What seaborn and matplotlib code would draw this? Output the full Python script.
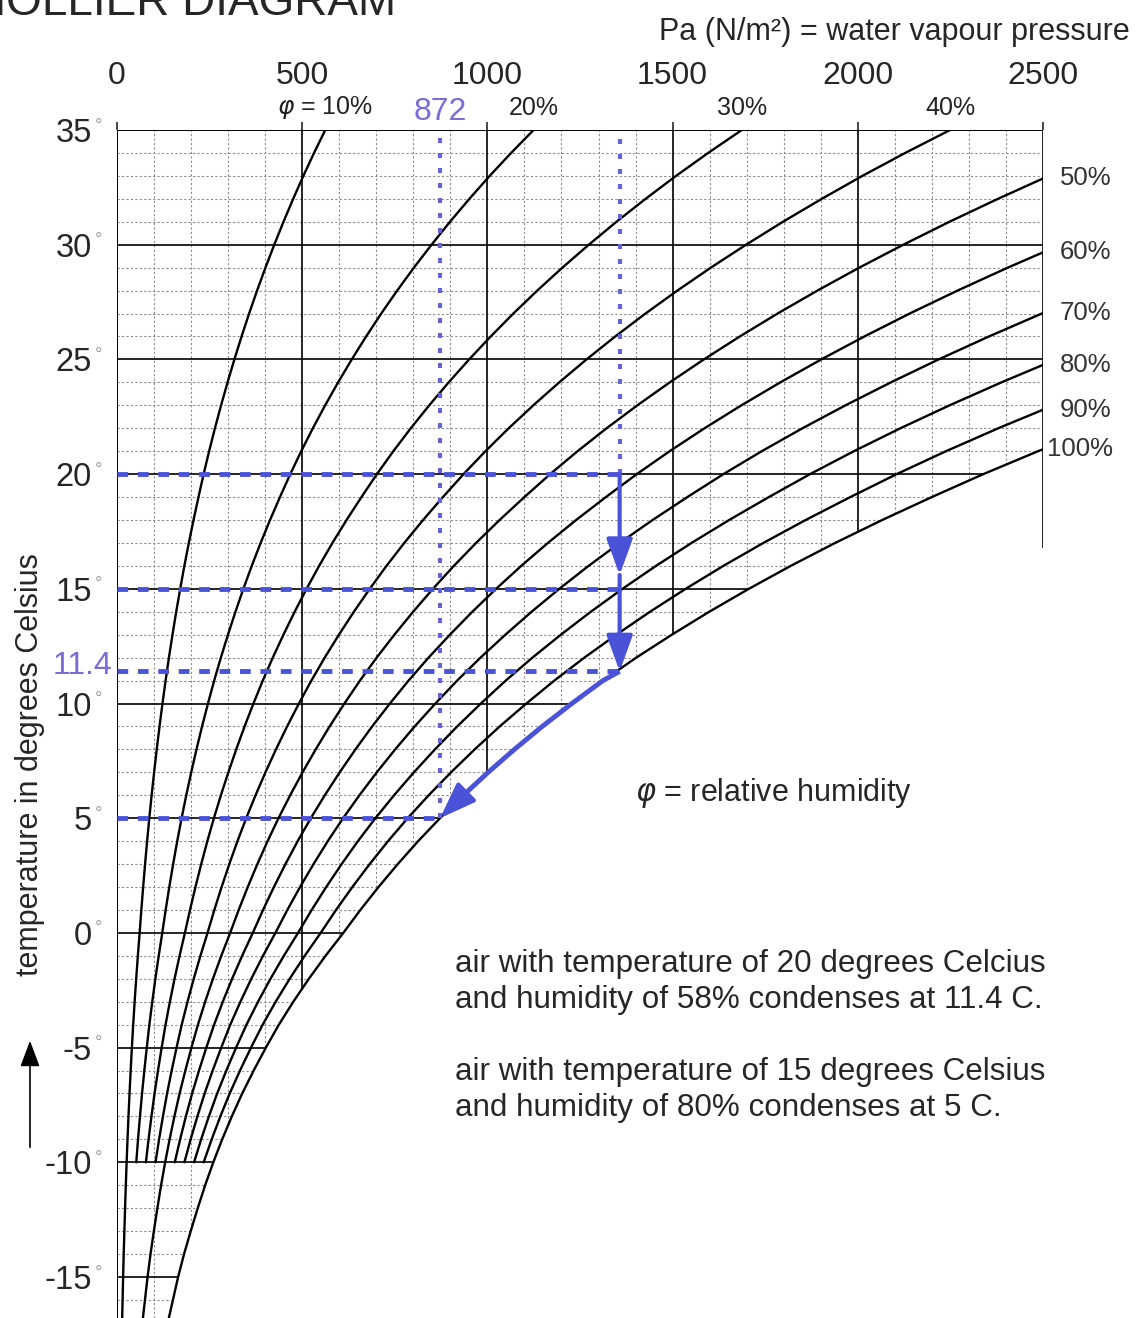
import numpy as np
import pandas as pd
import matplotlib
matplotlib.use("Agg")
import matplotlib.pyplot as plt
import seaborn as sns

# DATA
# temperature (deg C) and saturation vapour pressure (Pa)
# (over ice below 0 deg C)
temps = list(range(-18, 36))
sat_pressure = [125, 137, 151, 165, 181, 199, 218, 238, 260, 284,
                310, 338, 369, 402, 437, 476, 518, 563,
                611, 657, 706, 758, 813, 872, 935, 1002, 1073, 1148,
                1228, 1312, 1402, 1498, 1599, 1706, 1819, 1939, 2066, 2200,
                2339, 2487, 2644, 2810, 2985, 3169, 3363, 3567, 3782, 4008,
                4246, 4495, 4757, 5031, 5320, 5623]

humidity = [10, 20, 30, 40, 50, 60, 70, 80, 90, 100]   # relative humidity curves (%)
humidity_full = [10, 50, 100]                           # curves drawn below -10 deg C
top_labels = [10, 20, 30, 40]
right_labels = [50, 60, 70, 80, 90, 100]

x_ticks = [0, 500, 1000, 1500, 2000, 2500]
y_ticks = [-15, -10, -5, 0, 5, 10, 15, 20, 25, 30, 35]

# worked example (blue construction lines)
guide_temps = [20, 15, 11.4, 5]
guide_pressures = [1357, 1357, 1357, 872]
start_temp = 20
start_pressure = 1357
dew_point = 11.4
end_temp = 5
end_pressure = 872

# SETTINGS
W, H = 1139, 1318
PX_PER_DEG = 22.94
Y_LOW = 35 - (H - 130) / PX_PER_DEG
BLUE = "#4a52d8"
DOT_BLUE = "#6464d8"
LABEL_BLUE = "#7a6cd6"
FS = 22

sns.set_style("white")
plt.rcParams["font.family"] = ["Liberation Sans", "DejaVu Sans"]

fig = plt.figure(figsize=(W / 100, H / 100), dpi=100)
ax = fig.add_axes([117 / W, 0, 926 / W, (H - 130) / H])
ax.set_xlim(0, 2500)
ax.set_ylim(Y_LOW, 35)
for s in ax.spines.values():
    s.set_visible(False)

# GRID
minor_x = [x for x in range(100, 2500, 100) if x % 500]
minor_y = [y for y in range(-17, 35) if y % 5]
ax.vlines(minor_x, Y_LOW, 35, colors="#8c8c8c", linestyles=(0, (2, 2)), lw=0.8, zorder=1)
ax.hlines(minor_y, 0, 2500, colors="#8c8c8c", linestyles=(0, (2, 2)), lw=0.8, zorder=1)
ax.vlines([500, 1000, 1500, 2000], Y_LOW, 35, colors="black", lw=1.2, zorder=1)
ax.hlines([y for y in y_ticks if y < 35], 0, 2500, colors="black", lw=1.2, zorder=1)

# blank out everything right of the saturation curve
ax.fill_betweenx(temps, sat_pressure, 2600, color="white", lw=0, zorder=2)

# frame
ax.hlines(35, 0, 2500, colors="black", lw=1.4, zorder=3)
ax.vlines(0, Y_LOW, 35, colors="black", lw=1.4, zorder=3)
ax.vlines(2500, 16.8, 35, colors="black", lw=1.2, zorder=3)

# HUMIDITY CURVES
rows = []
for phi in humidity:
    t_min = -18 if phi in humidity_full else -10
    for t, ps in zip(temps, sat_pressure):
        if t >= t_min:
            rows.append((phi, t, phi / 100 * ps))
df = pd.DataFrame(rows, columns=["phi", "temp", "pressure"])

sns.lineplot(data=df, x="pressure", y="temp", hue="phi",
             palette={p: "black" for p in humidity}, estimator=None, sort=False,
             legend=False, lw=1.7, ax=ax, zorder=3)

# TICKS
ax.xaxis.tick_top()
ax.set_xticks(x_ticks)
ax.set_xticklabels([str(x) for x in x_ticks])
ax.tick_params(axis="x", direction="out", length=6, width=1.2, pad=22, labelsize=23,
               top=True, bottom=False)
ax.set_yticks(y_ticks)
ax.set_yticklabels([str(y) for y in y_ticks])
ax.tick_params(axis="y", direction="out", length=7, width=1.2, pad=11, labelsize=23.5)
ax.set_xlabel("")
ax.set_ylabel("")
for y in y_ticks:
    ax.annotate("°", xy=(0, y), xytext=(-16, 3), textcoords="offset points",
                fontsize=13, color="#a0a0a0", ha="left", va="center", annotation_clip=False)

# curve labels
for phi in top_labels:
    p = phi / 100 * sat_pressure[-1]
    label = r"$\varphi$ = 10%" if phi == 10 else f"{phi}%"
    ax.annotate(label, xy=(p, 35), xytext=(0, 16), textcoords="offset points",
                ha="center", va="center", fontsize=18, color="#222222", annotation_clip=False)
for phi in right_labels:
    curve_p = phi / 100 * np.array(sat_pressure)
    t_end = np.interp(2500, curve_p, temps)
    dx = 3 if phi == 100 else 12
    ax.annotate(f"{phi}%", xy=(2500, t_end), xytext=(dx, 0), textcoords="offset points",
                ha="left", va="center", fontsize=18.5, color="#333333", annotation_clip=False)

# WORKED EXAMPLE
for t, p in zip(guide_temps, guide_pressures):
    ax.hlines(t, 0, p, colors=BLUE, lw=3.5, linestyles=(0, (2.2, 2)), zorder=4)
ax.vlines(end_pressure, end_temp, 35, colors=DOT_BLUE, lw=3, linestyles=(0, (1.2, 2.4)), zorder=4)
ax.vlines(start_pressure, start_temp, 35, colors=DOT_BLUE, lw=3, linestyles=(0, (1.2, 2.4)), zorder=4)

arrow = dict(arrowstyle="-|>,head_length=1.1,head_width=0.4", color=BLUE, lw=3,
             shrinkA=0, shrinkB=0, mutation_scale=20)
ax.annotate("", xy=(start_pressure, 15.6), xytext=(start_pressure, start_temp),
            arrowprops=arrow, zorder=5)
ax.annotate("", xy=(start_pressure, dew_point), xytext=(start_pressure, 15.6),
            arrowprops=arrow, zorder=5)

# cooling along the saturation curve from the dew point down to 5 deg C
seg_t = [dew_point] + [t for t in temps if end_temp <= t < dew_point][::-1]
seg_p = [start_pressure] + [ps for t, ps in zip(temps, sat_pressure) if end_temp <= t < dew_point][::-1]
ax.plot(seg_p[:-1], seg_t[:-1], color=BLUE, lw=3.5, zorder=5, solid_capstyle="butt")
ax.annotate("", xy=(seg_p[-1], seg_t[-1]), xytext=(seg_p[-2], seg_t[-2]),
            arrowprops=arrow, zorder=5)

ax.annotate("872", xy=(end_pressure, 35), xytext=(0, 13), textcoords="offset points",
            ha="center", va="center", fontsize=23, color=LABEL_BLUE, annotation_clip=False)
ax.annotate("11.4", xy=(0, dew_point), xytext=(-3, 4), textcoords="offset points",
            ha="right", va="center", fontsize=23, color=LABEL_BLUE, annotation_clip=False)

# TEXTS
fig.text(-32 / W, 1 - 15 / H, "MOLLIER DIAGRAM", fontsize=33, va="baseline")
fig.text(1130 / W, 1 - 32 / H, "Pa (N/m²) = water vapour pressure", ha="right", va="center",
         fontsize=FS)
fig.text(30 / W, 1 - 765 / H, "temperature in degrees Celsius", rotation=90,
         ha="center", va="center", fontsize=FS)
fig.add_artist(matplotlib.patches.FancyArrowPatch(
    (30 / W, 1 - 1150 / H), (30 / W, 1 - 1038 / H), transform=fig.transFigure,
    arrowstyle="-|>,head_length=0.8,head_width=0.3", mutation_scale=20, color="black", lw=1.2))
fig.text(635 / W, 1 - 793 / H, r"$\varphi$ = relative humidity", fontsize=FS, va="center")
fig.text(455 / W, 1 - 1036 / H,
         "air with temperature of 20 degrees Celcius\n"
         "and humidity of 58% condenses at 11.4 C.\n\n"
         "air with temperature of 15 degrees Celsius\n"
         "and humidity of 80% condenses at 5 C.",
         fontsize=22.6, va="center", ha="left", linespacing=1.27)

fig.savefig("out.png", dpi=100)
